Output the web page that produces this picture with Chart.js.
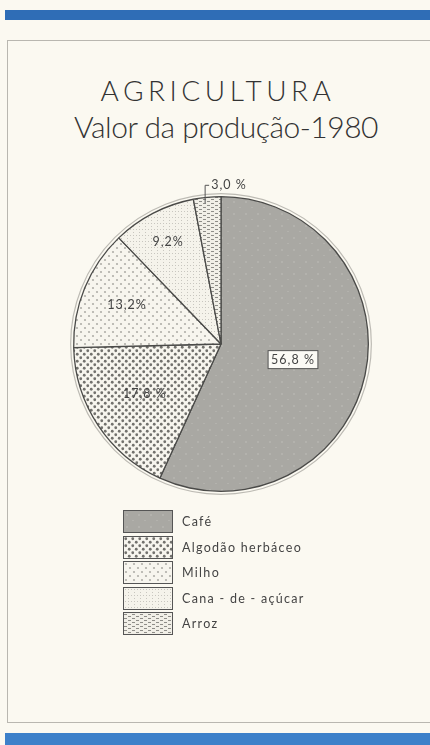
<!DOCTYPE html>
<html lang="pt">
<head>
<meta charset="utf-8">
<title>Agricultura - Valor da produção 1980</title>
<script src="https://cdn.jsdelivr.net/npm/chart.js@4.4.1/dist/chart.umd.min.js"></script>
<style>
  html, body {
    margin: 0;
    padding: 0;
    width: 430px;
    height: 745px;
    background: #fbf9f1;
    overflow: hidden;
    font-family: Lato, "Open Sans", sans-serif;
    color: #333;
  }
  .bar-top {
    position: absolute;
    left: 5px; top: 10px;
    width: 425px; height: 10px;
    background: #2f6db6;
  }
  .bar-bottom {
    position: absolute;
    left: 5px; top: 733px;
    width: 425px; height: 12px;
    background: #3d80c9;
  }
  .frame {
    position: absolute;
    left: 7px; top: 40px;
    width: 440px; height: 681px;
    border: 1.5px solid #b9b7b0;
  }
  .title {
    position: absolute;
    left: 0; width: 436px;
    top: 73px;
    text-align: center;
    font-size: 28px;
    font-weight: 300;
    letter-spacing: 4.5px;
  }
  .subtitle {
    position: absolute;
    left: 10px; width: 432px;
    top: 108px;
    text-align: center;
    font-size: 30px;
    font-weight: 300;
    letter-spacing: -0.5px;
  }
  #pie {
    position: absolute;
    left: 51px; top: 174px;
  }
  .legend {
    position: absolute;
    left: 123px; top: 509px;
  }
  .legend-row {
    display: flex;
    align-items: center;
    height: 25.5px;
  }
  .legend-row canvas {
    border: 1.2px solid #555;
    margin-right: 9px;
  }
  .legend-row span {
    font-size: 12.5px;
    letter-spacing: 1.3px;
    color: #444;
  }
</style>
</head>
<body>
<div class="bar-top"></div>
<div class="frame"></div>
<div class="title">AGRICULTURA</div>
<div class="subtitle">Valor da produção-1980</div>
<canvas id="pie" width="340" height="340"></canvas>
<div class="legend" id="legend"></div>
<div class="bar-bottom"></div>

<script>
// Dados
const categories = ["Café", "Algodão herbáceo", "Milho", "Cana - de - açúcar", "Arroz"];
const values = [56.8, 17.8, 13.2, 9.2, 3.0];
const valueLabels = ["56,8 %", "17,8 %", "13,2%", "9,2%", "3,0 %"];

// Hachuras (padrões de preenchimento)
function makePattern(kind) {
  const c = document.createElement("canvas");
  const ctx = c.getContext("2d");
  if (kind === "cafe") {
    c.width = 12; c.height = 12;
    ctx.fillStyle = "#a9a8a3";
    ctx.fillRect(0, 0, 12, 12);
    ctx.fillStyle = "#b3b2ad";
    ctx.fillRect(2, 3, 2, 2);
    ctx.fillRect(8, 9, 2, 1);
  } else if (kind === "algodao") {
    c.width = 7; c.height = 7;
    ctx.fillStyle = "#f7f5ee";
    ctx.fillRect(0, 0, 7, 7);
    ctx.fillStyle = "#72716d";
    ctx.beginPath(); ctx.arc(1.75, 1.75, 1.4, 0, Math.PI * 2); ctx.fill();
    ctx.beginPath(); ctx.arc(5.25, 5.25, 1.4, 0, Math.PI * 2); ctx.fill();
  } else if (kind === "milho") {
    c.width = 8; c.height = 8;
    ctx.fillStyle = "#f7f5ee";
    ctx.fillRect(0, 0, 8, 8);
    ctx.fillStyle = "#b0afa9";
    ctx.beginPath(); ctx.arc(2, 2, 1.1, 0, Math.PI * 2); ctx.fill();
    ctx.beginPath(); ctx.arc(6, 6, 1.1, 0, Math.PI * 2); ctx.fill();
  } else if (kind === "cana") {
    c.width = 6; c.height = 6;
    ctx.fillStyle = "#f5f3eb";
    ctx.fillRect(0, 0, 6, 6);
    ctx.fillStyle = "#c8c6bf";
    ctx.fillRect(1, 1, 1, 1);
    ctx.fillRect(4, 4, 1, 1);
    ctx.fillRect(4, 1, 1, 1);
  } else {
    c.width = 8; c.height = 4;
    ctx.fillStyle = "#f1efe7";
    ctx.fillRect(0, 0, 8, 4);
    ctx.fillStyle = "#8e8d88";
    ctx.fillRect(0, 1, 3, 1);
    ctx.fillRect(4, 3, 3, 1);
  }
  return c;
}

const patternKinds = ["cafe", "algodao", "milho", "cana", "arroz"];
const pieCtx = document.getElementById("pie").getContext("2d");
const fills = patternKinds.map(k => pieCtx.createPattern(makePattern(k), "repeat"));

// Rótulos dos setores
const sliceLabels = {
  id: "sliceLabels",
  afterDatasetsDraw(chart) {
    const ctx = chart.ctx;
    const arcs = chart.getDatasetMeta(0).data;
    const radial = [0.5, 0.62, 0.69, 0.78];
    ctx.save();
    // anel externo
    const a0 = arcs[0];
    ctx.beginPath();
    ctx.arc(a0.x, a0.y, a0.outerRadius + 3, 0, Math.PI * 2);
    ctx.strokeStyle = "#bdbbb4";
    ctx.lineWidth = 1.2;
    ctx.stroke();

    ctx.font = "12.5px Lato, 'Open Sans', sans-serif";
    ctx.letterSpacing = "1px";
    ctx.textAlign = "center";
    ctx.textBaseline = "middle";
    arcs.forEach((arc, i) => {
      const mid = (arc.startAngle + arc.endAngle) / 2;
      const text = valueLabels[i];
      if (i < radial.length) {
        const r = arc.outerRadius * radial[i];
        const x = arc.x + Math.cos(mid) * r;
        const y = arc.y + Math.sin(mid) * r;
        if (i === 0) {
          const w = ctx.measureText(text).width + 6;
          ctx.fillStyle = "#fbfaf5";
          ctx.fillRect(x - w / 2, y - 9, w, 18);
          ctx.strokeStyle = "#555";
          ctx.lineWidth = 1;
          ctx.strokeRect(x - w / 2, y - 9, w, 18);
        }
        ctx.fillStyle = "#444";
        ctx.fillText(text, x, y);
      } else {
        // rótulo externo com chamada
        const edgeX = arc.x + Math.cos(mid) * arc.outerRadius;
        const edgeY = arc.y + Math.sin(mid) * arc.outerRadius;
        ctx.strokeStyle = "#555";
        ctx.lineWidth = 1;
        ctx.beginPath();
        ctx.moveTo(edgeX - 2, edgeY + 6);
        ctx.lineTo(edgeX - 2, edgeY - 12);
        ctx.lineTo(edgeX + 2, edgeY - 12);
        ctx.stroke();
        ctx.fillStyle = "#444";
        ctx.textAlign = "left";
        ctx.fillText(text, edgeX + 4, edgeY - 12);
      }
    });
    ctx.restore();
  }
};

new Chart(pieCtx, {
  type: "pie",
  data: {
    labels: categories,
    datasets: [{
      data: values,
      backgroundColor: fills,
      borderColor: "#4a4a48",
      borderWidth: 1.3
    }]
  },
  options: {
    responsive: false,
    animation: false,
    layout: { padding: 22 },
    plugins: {
      legend: { display: false },
      tooltip: { enabled: false }
    }
  },
  plugins: [sliceLabels]
});

// Legenda
const legend = document.getElementById("legend");
categories.forEach((name, i) => {
  const row = document.createElement("div");
  row.className = "legend-row";
  const box = document.createElement("canvas");
  box.width = 48; box.height = 21;
  const bctx = box.getContext("2d");
  bctx.fillStyle = bctx.createPattern(makePattern(patternKinds[i]), "repeat");
  bctx.fillRect(0, 0, 48, 21);
  const label = document.createElement("span");
  label.textContent = name;
  row.appendChild(box);
  row.appendChild(label);
  legend.appendChild(row);
});
</script>
</body>
</html>
